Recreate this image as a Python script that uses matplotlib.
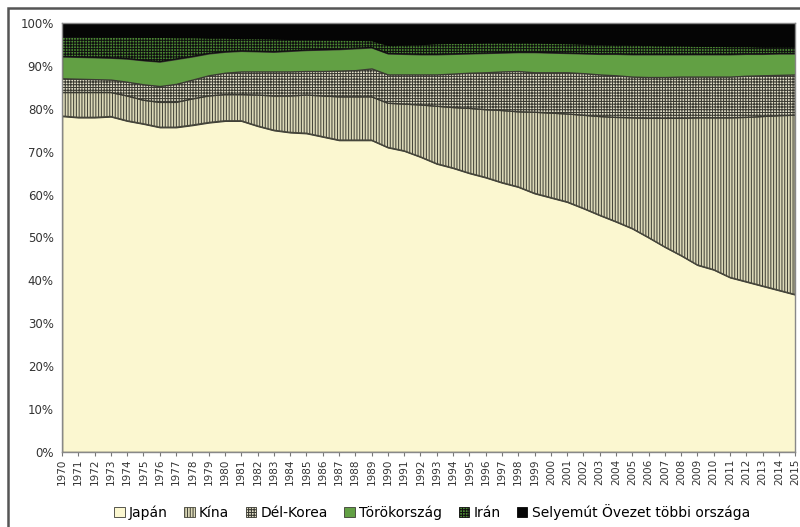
import matplotlib
matplotlib.use("Agg")
import matplotlib.pyplot as plt
from matplotlib.patches import Patch, Rectangle
import numpy as np

years = list(range(1970, 2016))

# shares in %
japan = [78.3, 78.0, 78.0, 78.2, 77.2, 76.5, 75.7, 75.7, 76.2, 76.8,
         77.2, 77.2, 76.0, 75.0, 74.5, 74.3, 73.5, 72.7, 72.7, 72.7,
         71.0, 70.2, 68.8, 67.2, 66.2, 65.0, 64.0, 62.8, 61.8, 60.3,
         59.3, 58.3, 56.8, 55.2, 53.7, 52.1, 50.0, 47.8, 45.8, 43.6,
         42.5, 40.7, 39.7, 38.7, 37.7, 36.7]
china = [5.5, 5.8, 5.8, 5.6, 5.8, 5.5, 5.8, 5.8, 6.1, 6.2,
         6.1, 6.1, 7.2, 8.0, 8.5, 8.9, 9.5, 10.1, 10.1, 10.1,
         10.3, 10.9, 12.1, 13.4, 14.1, 15.1, 15.8, 16.8, 17.5, 18.9,
         19.7, 20.5, 21.7, 23.0, 24.3, 25.8, 27.8, 30.0, 32.0, 34.3,
         35.4, 37.2, 38.3, 39.5, 40.7, 41.8]
korea = [3.3, 3.2, 3.1, 3.0, 3.3, 3.7, 3.8, 4.3, 4.5, 4.8,
         5.1, 5.4, 5.5, 5.7, 5.7, 5.6, 5.8, 6.1, 6.2, 6.6,
         6.7, 6.9, 7.1, 7.4, 7.9, 8.3, 8.7, 9.1, 9.5, 9.3,
         9.5, 9.7, 9.8, 9.8, 9.8, 9.6, 9.6, 9.6, 9.7, 9.6,
         9.6, 9.6, 9.7, 9.6, 9.5, 9.5]
turkey = [5.1, 5.1, 5.1, 5.1, 5.4, 5.6, 5.7, 5.8, 5.4, 5.1,
          4.9, 4.8, 4.7, 4.6, 4.8, 4.9, 5.0, 5.0, 5.1, 4.9,
          4.9, 4.8, 4.7, 4.7, 4.6, 4.5, 4.5, 4.4, 4.4, 4.7,
          4.6, 4.5, 4.6, 4.8, 5.0, 5.2, 5.3, 5.3, 5.2, 5.2,
          5.2, 5.2, 5.1, 5.0, 5.0, 4.9]
iran = [4.8, 4.9, 4.9, 5.0, 5.2, 5.5, 5.8, 5.1, 4.5, 3.7,
        3.3, 3.0, 3.1, 3.1, 2.8, 2.6, 2.4, 2.3, 2.0, 1.7,
        2.0, 2.2, 2.4, 2.6, 2.6, 2.5, 2.5, 2.4, 2.3, 2.3,
        2.3, 2.3, 2.3, 2.3, 2.2, 2.3, 2.2, 2.1, 2.1, 2.0,
        2.0, 1.9, 1.8, 1.7, 1.6, 1.6]
rest = [3.0, 3.0, 3.1, 3.1, 3.1, 3.2, 3.2, 3.3, 3.3, 3.4,
        3.4, 3.5, 3.5, 3.6, 3.7, 3.7, 3.8, 3.8, 3.9, 4.0,
        5.1, 5.0, 4.9, 4.7, 4.6, 4.6, 4.5, 4.5, 4.5, 4.5,
        4.6, 4.7, 4.8, 4.9, 5.0, 5.0, 5.1, 5.2, 5.2, 5.3,
        5.3, 5.4, 5.4, 5.5, 5.5, 5.5]

labels = ["Japán", "Kína", "Dél-Korea", "Törökország", "Irán",
          "Selyemút Övezet többi országa"]
series = [japan, china, korea, turkey, iran, rest]

faces = ["#FBF7D0", "#DCD9B8", "#E6E3CC", "#62A044", "#4C8C33", "#050505"]
edges = ["#3c3c34", "#45453a", "#3a3a32", "#3c3c34", "#101010", "#050505"]
hatches = [None, "||||||", "++++++", None, "++++++", None]

plt.rcParams["hatch.linewidth"] = 0.75
plt.rcParams["font.family"] = "DejaVu Sans"

fig = plt.figure(figsize=(8, 5.27), dpi=100)
ax = fig.add_axes([0.0775, 0.1423, 0.9165, 0.8141])

data = np.array(series, dtype=float)
data = data / data.sum(axis=0) * 100
bottom = np.zeros(len(years))
for vals, fc, ec, h in zip(data, faces, edges, hatches):
    top = bottom + vals
    ax.fill_between(years, bottom, top, facecolor=fc, edgecolor=ec,
                    hatch=h, linewidth=1.0)
    bottom = top

ax.set_xlim(1970, 2015)
ax.set_ylim(0, 100)
ax.set_yticks(range(0, 101, 10))
ax.set_yticklabels([f"{v}%" for v in range(0, 101, 10)])
ax.set_xticks(years)
ax.set_xticklabels([str(y) for y in years], rotation=90)
ax.tick_params(axis="y", length=0, labelsize=8.5, labelcolor="#333333", pad=6)
ax.tick_params(axis="x", length=3, color="#777777", labelsize=7.5,
               labelcolor="#333333", pad=2)
for s in ax.spines.values():
    s.set_color("#888888")
    s.set_linewidth(1.0)

# outer frame
fig.patches.append(Rectangle((8 / 800, -0.05), 1.05, 1 - 8 / 527 + 0.05,
                             transform=fig.transFigure, fill=False,
                             edgecolor="#555555", linewidth=1.8))

handles = [Patch(facecolor=fc, edgecolor=ec, hatch=h, linewidth=0.6)
           for fc, ec, h in zip(faces, edges, hatches)]
fig.legend(handles, labels, loc="center", bbox_to_anchor=(0.54, 0.028),
           ncol=6, frameon=False, fontsize=10, handlelength=0.75,
           handleheight=0.75, handletextpad=0.3, columnspacing=1.2)

fig.savefig("out.png", dpi=100)
